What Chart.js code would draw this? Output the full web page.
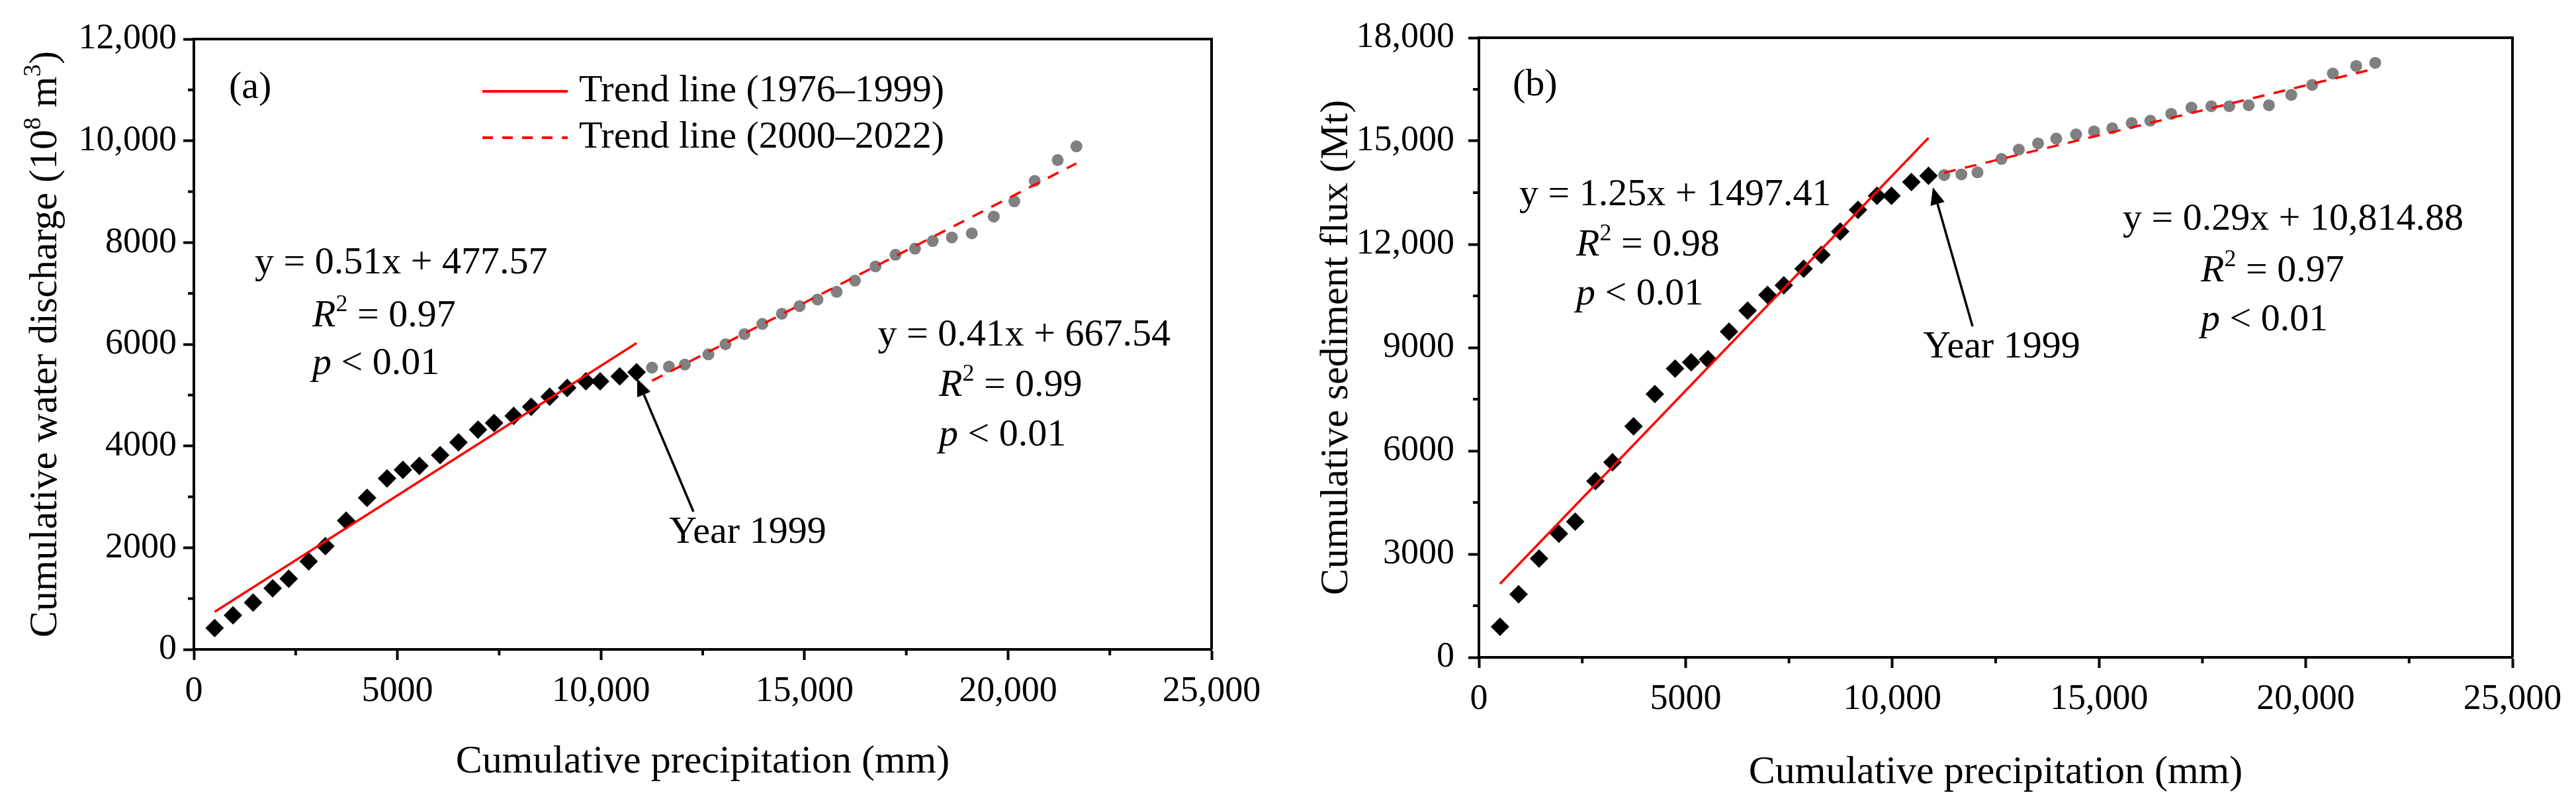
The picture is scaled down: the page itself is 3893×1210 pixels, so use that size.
<!DOCTYPE html>
<html>
<head>
<meta charset="utf-8">
<title>Cumulative discharge / sediment vs precipitation</title>
<script src="https://cdn.jsdelivr.net/npm/chart.js@4.4.0/dist/chart.umd.min.js"></script>
<style>
  html, body { margin: 0; padding: 0; background: #fff; }
  #wrap { position: relative; width: 3893px; height: 1210px; }
  canvas { position: absolute; top: 0; }
  #chartA { left: 0; }
  #chartB { left: 1950px; }
</style>
</head>
<body>
<div id="wrap">
  <canvas id="chartA" width="1950" height="1210"></canvas>
  <canvas id="chartB" width="1943" height="1210"></canvas>
</div>
<script>
// cumulative precipitation (mm), 1976-2022
const precip = [510, 960, 1455, 1935, 2330, 2820, 3230, 3740, 4255, 4745, 5135, 5540, 6050, 6500, 6980, 7375,
  7855, 8285, 8740, 9170, 9630, 9980, 10460, 10875,
  11255, 11670, 12060, 12640, 13060, 13525, 13965, 14445, 14880, 15320, 15790, 16240, 16745, 17235, 17715, 18150,
  18620, 19110, 19650, 20155, 20655, 21220, 21680];

// cumulative water discharge (10^8 m3)
const discharge = [420, 670, 920, 1200, 1390, 1730, 2030, 2530, 2980, 3360, 3530, 3610, 3820, 4070, 4320, 4450,
  4590, 4770, 4970, 5140, 5270, 5270, 5370, 5450,
  5540, 5560, 5600, 5800, 6000, 6200, 6400, 6600, 6750, 6880, 7030, 7250, 7530, 7760, 7880, 8030,
  8100, 8180, 8510, 8810, 9210, 9620, 9890];

// cumulative sediment flux (Mt)
const sediment = [890, 1830, 2870, 3590, 3940, 5120, 5670, 6710, 7650, 8390, 8570, 8660, 9460, 10070, 10530, 10810,
  11290, 11690, 12370, 13000, 13410, 13410, 13810, 13990,
  14010, 14030, 14090, 14480, 14750, 14930, 15070, 15190, 15280, 15370, 15520, 15590, 15790, 15970, 16010, 16010,
  16040, 16040, 16340, 16630, 16960, 17180, 17270];

const splitIdx = 24; // first 24 values are 1976-1999

// regression lines printed on the figure: [slope, intercept]
const fitA1 = [0.51, 477.57];
const fitA2 = [0.41, 667.54];
const fitB1 = [1.25, 1497.41];
const fitB2 = [0.29, 10814.88];

const xTicks = [0, 5000, 10000, 15000, 20000, 25000];
const yTicksA = [0, 2000, 4000, 6000, 8000, 10000, 12000];
const yTicksB = [0, 3000, 6000, 9000, 12000, 15000, 18000];

const FONT = '"Liberation Serif", "Times New Roman", serif';

function fmt(v) {
  return v >= 10000 ? v.toLocaleString('en-US') : String(v);
}

function pts(ys, from, to) {
  const out = [];
  for (let i = from; i < to; i++) out.push({ x: precip[i], y: ys[i] });
  return out;
}

function trend(fit, from, to) {
  const x0 = precip[from], x1 = precip[to - 1];
  return [{ x: x0, y: fit[0] * x0 + fit[1] }, { x: x1, y: fit[0] * x1 + fit[1] }];
}

function richWidth(ctx, parts, size) {
  let w = 0;
  parts.forEach(p => {
    const s = p.sup ? size * 0.62 : size;
    ctx.font = (p.it ? 'italic ' : '') + s + 'px ' + FONT;
    w += ctx.measureText(p.t).width;
  });
  return w;
}

function drawRich(ctx, x, y, parts, size, align) {
  let cx = align === 'center' ? x - richWidth(ctx, parts, size) / 2 : x;
  ctx.textBaseline = 'middle';
  ctx.textAlign = 'left';
  ctx.fillStyle = '#000';
  parts.forEach(p => {
    const s = p.sup ? size * 0.62 : size;
    ctx.font = (p.it ? 'italic ' : '') + s + 'px ' + FONT;
    ctx.fillText(p.t, cx, p.sup ? y - size * 0.3 : y);
    cx += ctx.measureText(p.t).width;
  });
}

const notes = {
  id: 'notes',
  afterDatasetsDraw(chart, args, o) {
    const { ctx, chartArea: ca, scales: { x, y } } = chart;
    ctx.save();

    // top and right frame
    ctx.strokeStyle = '#000';
    ctx.lineWidth = 4;
    ctx.beginPath();
    ctx.moveTo(ca.left, ca.top);
    ctx.lineTo(ca.right, ca.top);
    ctx.lineTo(ca.right, ca.bottom);
    ctx.stroke();

    // minor ticks
    ctx.beginPath();
    for (let v = o.xMinor; v < x.max; v += o.xMinor) {
      if (v % 5000 === 0) continue;
      const px = x.getPixelForValue(v);
      ctx.moveTo(px, ca.bottom);
      ctx.lineTo(px, ca.bottom + 9);
    }
    for (let v = o.yMinor; v < y.max; v += o.yMinor) {
      if (v % (o.yMinor * 2) === 0) continue;
      const py = y.getPixelForValue(v);
      ctx.moveTo(ca.left, py);
      ctx.lineTo(ca.left - 9, py);
    }
    ctx.stroke();

    // legend
    if (o.legend) {
      o.legend.forEach(it => {
        const py = y.getPixelForValue(it.y);
        ctx.strokeStyle = '#ff0000';
        ctx.lineWidth = 4;
        ctx.setLineDash(it.dash || []);
        ctx.beginPath();
        ctx.moveTo(x.getPixelForValue(it.x0), py);
        ctx.lineTo(x.getPixelForValue(it.x1), py);
        ctx.stroke();
        ctx.setLineDash([]);
        drawRich(ctx, x.getPixelForValue(it.xt), py, [{ t: it.text }], 58);
      });
    }

    // texts
    o.texts.forEach(t => {
      drawRich(ctx, x.getPixelForValue(t.x), y.getPixelForValue(t.y), t.parts, t.size || 58, t.align);
    });

    // arrow
    const a = o.arrow;
    const x0 = x.getPixelForValue(a.from[0]), y0 = y.getPixelForValue(a.from[1]);
    const x1 = x.getPixelForValue(a.to[0]), y1 = y.getPixelForValue(a.to[1]);
    const ang = Math.atan2(y1 - y0, x1 - x0);
    const hl = 26, hw = 11;
    const bx = x1 - hl * Math.cos(ang), by = y1 - hl * Math.sin(ang);
    ctx.strokeStyle = '#000';
    ctx.fillStyle = '#000';
    ctx.lineWidth = 3.5;
    ctx.beginPath();
    ctx.moveTo(x0, y0);
    ctx.lineTo(bx, by);
    ctx.stroke();
    ctx.beginPath();
    ctx.moveTo(x1, y1);
    ctx.lineTo(bx + hw * Math.sin(ang), by - hw * Math.cos(ang));
    ctx.lineTo(bx - hw * Math.sin(ang), by + hw * Math.cos(ang));
    ctx.closePath();
    ctx.fill();

    // rotated y title with superscripts
    if (o.yTitle) {
      ctx.translate(o.yTitle.cx, (ca.top + ca.bottom) / 2);
      ctx.rotate(-Math.PI / 2);
      drawRich(ctx, 0, 0, o.yTitle.parts, 60, 'center');
    }
    ctx.restore();
  }
};

function buildChart(id, p) {
  const tickFont = { family: FONT, size: 54, lineHeight: 1.2 };
  const titleFont = { family: FONT, size: 60, lineHeight: 1.2 };
  return new Chart(document.getElementById(id), {
    type: 'scatter',
    data: {
      datasets: [
        { data: trend(p.fit1, 0, splitIdx), showLine: true, borderColor: '#ff0000', borderWidth: 3.5, pointRadius: 0 },
        { data: trend(p.fit2, splitIdx, precip.length), showLine: true, borderColor: '#ff0000', borderWidth: 3.5,
          borderDash: [18, 14], pointRadius: 0 },
        { data: pts(p.ys, 0, splitIdx), pointStyle: 'rectRot', pointRadius: 14, backgroundColor: '#000',
          borderColor: '#000', borderWidth: 0 },
        { data: pts(p.ys, splitIdx, precip.length), pointStyle: 'circle', pointRadius: 9, backgroundColor: '#808080',
          borderColor: '#808080', borderWidth: 0 }
      ]
    },
    options: {
      responsive: false,
      devicePixelRatio: 1,
      animation: false,
      events: [],
      layout: { padding: { left: 0, top: p.top, right: p.right, bottom: 0 } },
      plugins: {
        legend: { display: false },
        tooltip: { enabled: false },
        notes: p.notes
      },
      scales: {
        x: {
          type: 'linear', min: 0, max: 25000,
          afterBuildTicks: s => { s.ticks = xTicks.map(v => ({ value: v })); },
          afterFit: s => { s.height = p.xH; },
          ticks: { font: tickFont, color: '#000', padding: 15, maxRotation: 0, autoSkip: false, callback: v => fmt(v) },
          grid: { drawOnChartArea: false, drawTicks: true, tickLength: 16, tickWidth: 4, tickColor: '#000' },
          border: { display: true, color: '#000', width: 4 },
          title: { display: true, text: 'Cumulative precipitation (mm)', font: titleFont, color: '#000',
            padding: { top: 0, bottom: p.xTitlePad } }
        },
        y: {
          type: 'linear', min: 0, max: p.yTicks[p.yTicks.length - 1],
          afterBuildTicks: s => { s.ticks = p.yTicks.map(v => ({ value: v })); },
          afterFit: s => { s.width = p.yW; },
          ticks: { font: tickFont, color: '#000', padding: p.yTickPad, autoSkip: false, callback: v => fmt(v) },
          grid: { drawOnChartArea: false, drawTicks: true, tickLength: 16, tickWidth: 4, tickColor: '#000' },
          border: { display: true, color: '#000', width: 4 },
          title: { display: !!p.yTitle, text: p.yTitle || '', font: titleFont, color: '#000',
            padding: { top: 34, bottom: 0 } }
        }
      }
    },
    plugins: [notes]
  });
}

buildChart('chartA', {
  ys: discharge, fit1: fitA1, fit2: fitA2, yTicks: yTicksA,
  top: 59, right: 119, yW: 293, xH: 229, xTitlePad: 23, yTickPad: 10,
  notes: {
    xMinor: 2500, yMinor: 1000,
    yTitle: { cx: 69, parts: [{ t: 'Cumulative water discharge (10' }, { t: '8', sup: true }, { t: ' m' }, { t: '3', sup: true }, { t: ')' }] },
    legend: [
      { x0: 7087, x1: 9184, xt: 9460, y: 10972, text: 'Trend line (1976\u20131999)' },
      { x0: 7087, x1: 9184, xt: 9460, y: 10061, text: 'Trend line (2000\u20132022)', dash: [16, 14] }
    ],
    texts: [
      { x: 861, y: 11037, parts: [{ t: '(a)' }] },
      { x: 1496, y: 7588, parts: [{ t: 'y = 0.51x + 477.57' }] },
      { x: 2910, y: 6547, parts: [{ t: 'R', it: true }, { t: '2', sup: true }, { t: ' = 0.97' }] },
      { x: 2910, y: 5609, parts: [{ t: 'p', it: true }, { t: ' < 0.01' }] },
      { x: 16800, y: 6169, parts: [{ t: 'y = 0.41x + 667.54' }] },
      { x: 18303, y: 5180, parts: [{ t: 'R', it: true }, { t: '2', sup: true }, { t: ' = 0.99' }] },
      { x: 18303, y: 4204, parts: [{ t: 'p', it: true }, { t: ' < 0.01' }] },
      { x: 13605, y: 2291, parts: [{ t: 'Year 1999' }], align: 'center' }
    ],
    arrow: { from: [12272, 2707], to: [10890, 5323] }
  }
});

buildChart('chartB', {
  ys: sediment, fit1: fitB1, fit2: fitB2, yTicks: yTicksB,
  top: 57, right: 96, yW: 285, xH: 217, xTitlePad: 7, yTickPad: 21,
  yTitle: 'Cumulative sediment flux (Mt)',
  notes: {
    xMinor: 2500, yMinor: 1500,
    texts: [
      { x: 816, y: 16615, parts: [{ t: '(b)' }] },
      { x: 976, y: 13423, parts: [{ t: 'y = 1.25x + 1497.41' }] },
      { x: 2353, y: 11962, parts: [{ t: 'R', it: true }, { t: '2', sup: true }, { t: ' = 0.98' }] },
      { x: 2353, y: 10538, parts: [{ t: 'p', it: true }, { t: ' < 0.01' }] },
      { x: 15573, y: 12712, parts: [{ t: 'y = 0.29x + 10,814.88' }] },
      { x: 17462, y: 11212, parts: [{ t: 'R', it: true }, { t: '2', sup: true }, { t: ' = 0.97' }] },
      { x: 17462, y: 9788, parts: [{ t: 'p', it: true }, { t: ' < 0.01' }] },
      { x: 12644, y: 9000, parts: [{ t: 'Year 1999' }], align: 'center' }
    ],
    arrow: { from: [11940, 9615], to: [10980, 13654] }
  }
});
</script>
</body>
</html>
